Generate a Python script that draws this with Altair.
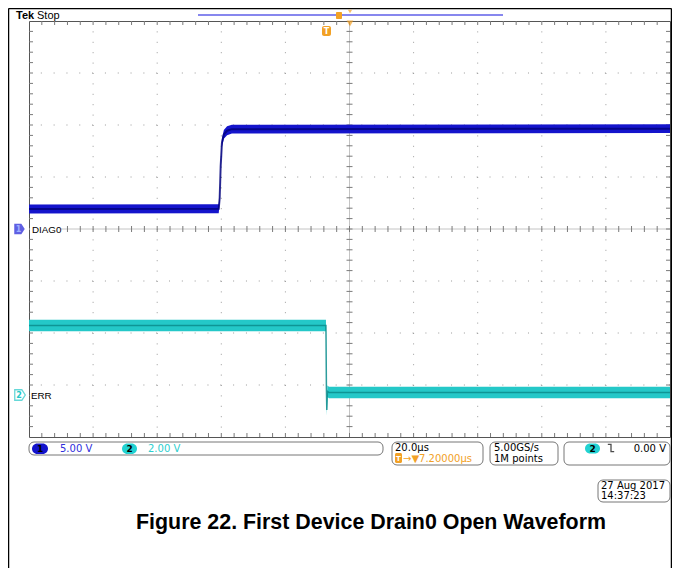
import altair as alt
import pandas as pd

# ---------------- scope settings ----------------
time_per_div = 20.0          # µs / div
trig_offset = 7.2            # µs, trigger position -> screen centre
ch1_volts_per_div = 5.0
ch2_volts_per_div = 2.0
ch1_offset_div = 0.0
ch2_offset_div = -3.17

# ---------------- waveform data (time in µs rel. trigger, volts) ----------------
diag0_t = [-92.8, -33.6, -33.3, -33.0, -32.6, -32.0, -31.0, -29.5, 107.2]
diag0_v = [1.92, 1.95, 3.0, 6.0, 8.3, 9.1, 9.45, 9.6, 9.65]
err_t = [-92.8, -0.15, 0.0, 0.12, 0.3, 0.8, 107.2]
err_v = [2.63, 2.63, 0.2, -0.62, 0.1, 0.05, 0.05]

# ---------------- texts ----------------
ch_names = ["DIAG0", "ERR"]
scale_labels = ["5.00 V", "2.00 V"]
timebase_label = "20.0\u00b5s"
delay_label = "\u2192\u25bc7.20000\u00b5s"
rate_labels = ["5.00GS/s", "1M points"]
trig_level_label = "0.00 V"
date_labels = ["27 Aug 2017", "14:37:23"]
title_text = "Figure 22. First Device Drain0 Open Waveform"

# ---------------- geometry ----------------
W, H = 641, 416
OX, OY = 29, 21                       # page position of plot origin
x_min = trig_offset - 5 * time_per_div
x_max = trig_offset + 5 * time_per_div
x_c = trig_offset
px_per_us = W / (10 * time_per_div)
px_per_div = H / 8

ORANGE = "#F2A126"
BLUE = "#1414CC"
NAVY = "#00007A"
CYAN = "#24C8C8"
TEAL = "#0B8C8C"
SANS = "Liberation Sans"
DV = "DejaVu Sans"

xs = alt.Scale(domain=[x_min, x_max], nice=False, zero=False)
ys = alt.Scale(domain=[-4, 4], nice=False, zero=False)
ONE = pd.DataFrame({"k": [0]})


def wave(ts, vs, vdiv, off, band):
    d = pd.DataFrame({"t": ts, "v": vs})
    d["y"] = d["v"] / vdiv + off
    d["lo"] = d["y"] - band
    d["hi"] = d["y"] + band
    return d


d1 = wave(diag0_t, diag0_v, ch1_volts_per_div, ch1_offset_div, 0.085)
d2 = wave(err_t, err_v, ch2_volts_per_div, ch2_offset_div, 0.11)

# grid
vgrid = pd.DataFrame({"t": [x_min + time_per_div * k for k in range(1, 10) if k != 5]})
hgrid = pd.DataFrame({"y": [-4 + k for k in range(1, 8) if k != 4]})
minor_t = [x_min + time_per_div / 5 * k for k in range(1, 50)]
minor_y = [-4 + 0.2 * k for k in range(1, 40)]
segs = []
for t in minor_t:
    segs.append((t, t, -3 / px_per_div, 3 / px_per_div))
    segs.append((t, t, 4, 4 - 4 / px_per_div))
    segs.append((t, t, -4, -4 + 4 / px_per_div))
for y in minor_y:
    segs.append((x_c - 3 / px_per_us, x_c + 3 / px_per_us, y, y))
    segs.append((x_min, x_min + 4 / px_per_us, y, y))
    segs.append((x_max - 4 / px_per_us, x_max, y, y))
ticks = pd.DataFrame(segs, columns=["x", "x2", "y", "y2"])

X = lambda f: alt.X(f, scale=xs, axis=None)
Y = lambda f: alt.Y(f, scale=ys, axis=None)

layers = []
layers.append(alt.Chart(vgrid).mark_rule(color="#9a9a9a", strokeDash=[1, 9.4]).encode(x=X("t:Q")))
layers.append(alt.Chart(hgrid).mark_rule(color="#9a9a9a", strokeDash=[1, 11.82]).encode(y=Y("y:Q")))
layers.append(alt.Chart(pd.DataFrame({"t": [x_c]})).mark_rule(color="#c4c4c4").encode(x=X("t:Q")))
layers.append(alt.Chart(pd.DataFrame({"y": [0.0]})).mark_rule(color="#c4c4c4").encode(y=Y("y:Q")))
layers.append(alt.Chart(ticks).mark_rule(color="#7a7a7a").encode(
    x=X("x:Q"), x2="x2:Q", y=Y("y:Q"), y2="y2:Q"))

# waveforms
layers.append(alt.Chart(d1).mark_area(color=BLUE).encode(x=X("t:Q"), y=Y("lo:Q"), y2="hi:Q"))
layers.append(alt.Chart(d1).mark_line(color=NAVY, strokeWidth=2, opacity=0.8).encode(x=X("t:Q"), y=Y("y:Q")))
layers.append(alt.Chart(d2).mark_area(color=CYAN).encode(x=X("t:Q"), y=Y("lo:Q"), y2="hi:Q"))
layers.append(alt.Chart(d2).mark_line(color=TEAL, strokeWidth=1.5, opacity=0.85).encode(x=X("t:Q"), y=Y("y:Q")))


# ---------------- annotation helpers (page coordinates) ----------------
def text(s, x, y, color="black", size=10, weight="normal", font=DV, align="left", baseline="middle"):
    return alt.Chart(ONE).mark_text(text=s, color=color, fontSize=size, fontWeight=weight, font=font,
                                    align=align, baseline=baseline).encode(
        x=alt.value(x - OX), y=alt.value(y - OY))


def box(x1, y1, x2, y2, fill="white", stroke=None, radius=4, sw=1.0):
    kw = dict(fill=fill, cornerRadius=radius)
    if stroke:
        kw.update(stroke=stroke, strokeWidth=sw)
    else:
        kw.update(strokeWidth=0)
    return alt.Chart(ONE).mark_rect(**kw).encode(
        x=alt.value(x1 - OX), x2=alt.value(x2 - OX), y=alt.value(y1 - OY), y2=alt.value(y2 - OY))


def line(x1, y1, x2, y2, color="black", sw=1.0):
    return alt.Chart(ONE).mark_rule(color=color, strokeWidth=sw).encode(
        x=alt.value(x1 - OX), x2=alt.value(x2 - OX), y=alt.value(y1 - OY), y2=alt.value(y2 - OY))


def sym(shape, x, y, size, **kw):
    return alt.Chart(ONE).mark_point(shape=shape, size=size, **kw).encode(
        x=alt.value(x - OX), y=alt.value(y - OY))


TAG = "M-1,-1 L0.35,-1 L1,0 L0.35,1 L-1,1 Z"
SLOPE = "M-0.9,-1 L0,-1 L0,1 L0.9,1"

# outer frame
layers += [line(8.5, 8.5, 8.5, 568, sw=1.5), line(8.5, 8.5, 671.5, 8.5, sw=1.5), line(671.5, 8.5, 671.5, 568, sw=1.5)]

# header
layers += [text("Tek", 16, 19, size=11, weight="bold", font=SANS, baseline="alphabetic"),
           text("Stop", 37, 19, size=11, font=SANS, baseline="alphabetic")]
layers += [line(198, 15, 503, 15, color="#8787EE", sw=2),
           box(336, 12, 342, 19, fill=ORANGE, radius=1),
           sym("triangle-down", 350, 11.5, 18, filled=True, fill=ORANGE, stroke=ORANGE, strokeWidth=0),
           sym("triangle-down", 350, 23.5, 45, filled=True, fill=ORANGE, stroke=ORANGE, strokeWidth=0),
           box(322, 26, 331, 36, fill=ORANGE, radius=2),
           text("T", 326.5, 31.5, color="white", size=8, weight="bold", align="center")]

# channel tags
layers += [sym(TAG, 19.5, 229, 110, filled=True, fill="#1B1BD6", strokeWidth=0),
           text("1", 18.5, 229.5, color="#9fb0ff", size=8, weight="bold", align="center"),
           box(30, 223, 61, 235, radius=0),
           text(ch_names[0], 32, 229.5, size=9.8, font=SANS),
           sym(TAG, 20, 395, 110, filled=True, fill="white", stroke=CYAN, strokeWidth=1.3),
           text("2", 19, 395.5, color=CYAN, size=8, weight="bold", align="center"),
           box(30, 389, 50, 401, radius=0),
           text(ch_names[1], 31, 395.5, size=9.8, font=SANS)]

# status boxes
layers += [box(29, 442, 383, 455, stroke="#777", radius=5),
           box(32, 443.5, 48, 454, fill="#1313CC", radius=6),
           text("1", 40, 449, size=9, weight="bold", align="center"),
           text(scale_labels[0], 60, 449, color="#2E2EDC", size=10),
           box(122, 443.5, 137, 454, fill="#22D2D2", radius=6),
           text("2", 129.5, 449, size=9, weight="bold", align="center"),
           text(scale_labels[1], 148, 449, color="#2CCFCF", size=10),
           box(392, 442, 483, 465, stroke="#777", radius=5),
           text(timebase_label, 395, 447.5, size=10),
           box(395, 453, 402, 463, fill=ORANGE, radius=1.5),
           text("T", 398.5, 458.5, color="white", size=7, weight="bold", align="center"),
           text(delay_label, 403, 458.5, color=ORANGE, size=10),
           box(490, 442, 558, 465, stroke="#777", radius=5),
           text(rate_labels[0], 494, 447.5, size=10),
           text(rate_labels[1], 494, 458.5, size=10),
           box(564, 442, 670, 465, stroke="#777", radius=5),
           box(585, 443.5, 600, 453.5, fill="#22D2D2", radius=6),
           text("2", 592.5, 448.5, size=9, weight="bold", align="center"),
           sym(SLOPE, 611, 448, 50, filled=False, stroke="black", strokeWidth=1.3),
           text(trig_level_label, 666, 448.5, size=10, align="right"),
           box(598, 480, 670, 502, stroke="#777", radius=5),
           text(date_labels[0], 601, 486, size=10),
           text(date_labels[1], 601, 496, size=10)]

# caption
layers.append(text(title_text, 371, 523, size=21.4, weight="bold", font=SANS, align="center"))

chart = alt.layer(*layers).properties(
    width=W, height=H,
    autosize=alt.AutoSizeParams(type="none"),
    padding={"left": 21, "top": 13, "right": 2, "bottom": 131},
).configure_view(stroke="#555555", strokeWidth=1)

chart.save("out.html", embed_options={"renderer": "svg", "actions": False})
